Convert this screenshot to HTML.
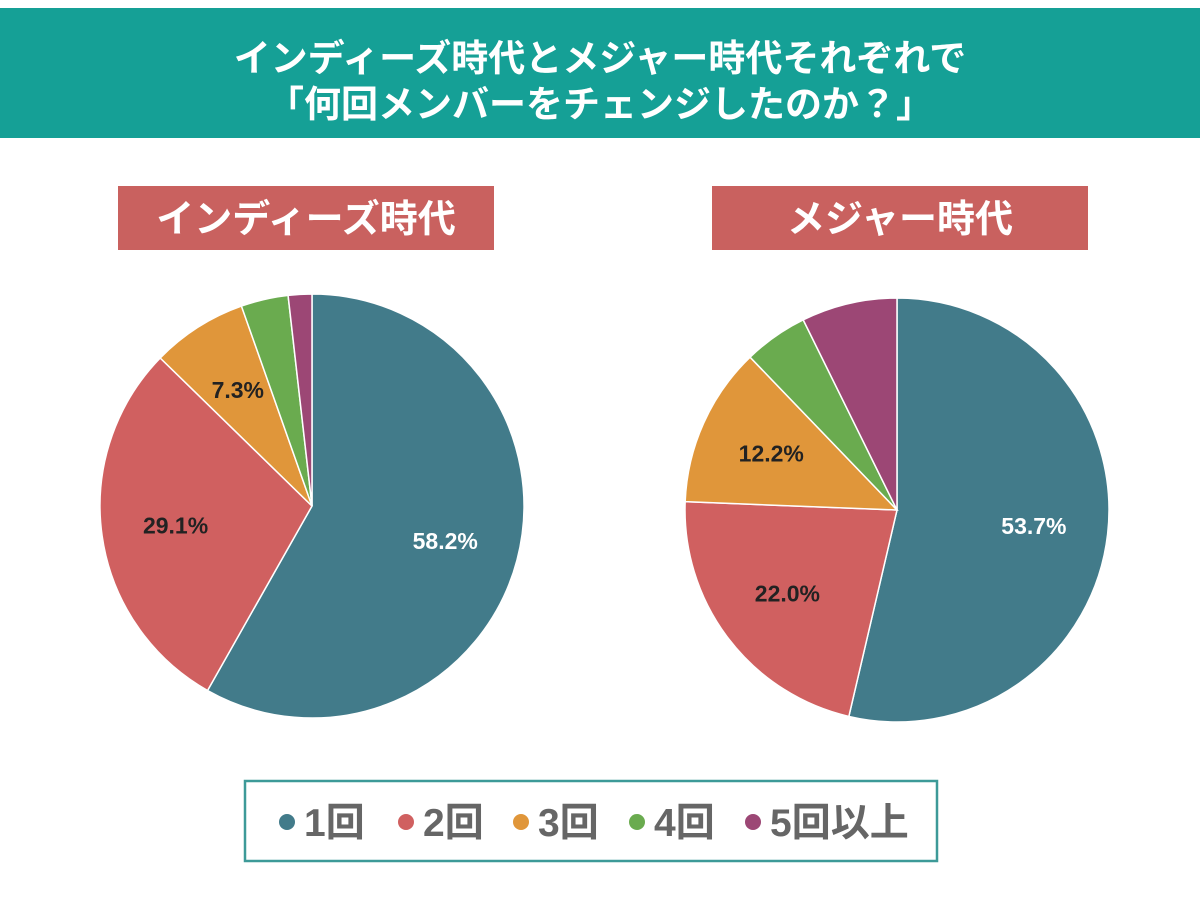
<!DOCTYPE html>
<html><head><meta charset="utf-8"><style>
html,body{margin:0;padding:0;background:#fff;}
body{width:1200px;height:907px;overflow:hidden;font-family:"Liberation Sans","Noto Sans CJK JP",sans-serif;}
</style></head><body>
<svg id="chart" width="1200" height="907" xmlns="http://www.w3.org/2000/svg">
<rect x="0" y="8" width="1200" height="130" fill="#15a096"/>
<text x="600" y="71" text-anchor="middle" font-size="37" font-weight="bold" fill="#fff" font-family="Liberation Sans, Noto Sans CJK JP, sans-serif">インディーズ時代とメジャー時代それぞれで</text>
<text x="600" y="117" text-anchor="middle" font-size="37" font-weight="bold" fill="#fff" font-family="Liberation Sans, Noto Sans CJK JP, sans-serif">「何回メンバーをチェンジしたのか？」</text>
<rect x="118" y="186" width="376" height="64" fill="#c9615f"/>
<text x="306" y="232" text-anchor="middle" font-size="38" font-weight="bold" fill="#fff" font-family="Liberation Sans, Noto Sans CJK JP, sans-serif">インディーズ時代</text>
<rect x="712" y="186" width="376" height="64" fill="#c9615f"/>
<text x="900" y="232" text-anchor="middle" font-size="38" font-weight="bold" fill="#fff" font-family="Liberation Sans, Noto Sans CJK JP, sans-serif">メジャー時代</text>
<g id="pies"></g>
<rect x="245" y="781" width="692" height="80" fill="#fff" stroke="#3d9a98" stroke-width="2.5"/>
<g id="legend"></g>
</svg>
<script>
const categories = ["1回","2回","3回","4回","5回以上"];
const indiesValues = [58.2, 29.1, 7.3, 3.6, 1.8];
const majorValues = [53.7, 22.0, 12.2, 4.9, 7.3];
const colors = ["#427b8a","#d06060","#e0963a","#6aab4f","#9c4775"];
const NS = "http://www.w3.org/2000/svg";
const pies = document.getElementById("pies");
function drawPie(vals, cx, cy, r, name){
  const total = vals.reduce((a,b)=>a+b,0);
  let acc = 0;
  vals.forEach((v,i)=>{
    const a0 = acc/total*2*Math.PI; acc += v; const a1 = acc/total*2*Math.PI;
    const x0 = cx + r*Math.sin(a0), y0 = cy - r*Math.cos(a0);
    const x1 = cx + r*Math.sin(a1), y1 = cy - r*Math.cos(a1);
    const large = (a1-a0) > Math.PI ? 1 : 0;
    const p = document.createElementNS(NS,"path");
    p.setAttribute("d",`M${cx},${cy}L${x0},${y0}A${r},${r} 0 ${large} 1 ${x1},${y1}Z`);
    p.setAttribute("fill",colors[i]);
    p.setAttribute("stroke","#fff"); p.setAttribute("stroke-width","1.5");
    
    
    pies.appendChild(p);
    if (i < 3) {
      const am = (a0+a1)/2, lr = r*0.65;
      const t = document.createElementNS(NS,"text");
      t.setAttribute("x", cx + lr*Math.sin(am));
      t.setAttribute("y", cy - lr*Math.cos(am) + 8);
      t.setAttribute("text-anchor","middle");
      t.setAttribute("font-size","23"); t.setAttribute("font-weight","bold");
      t.setAttribute("fill", i===0 ? "#fff" : "#222");
      t.textContent = v.toFixed(1) + "%";
      
      
      pies.appendChild(t);
    }
  });
}
drawPie(indiesValues, 312, 506, 212, "indies");
drawPie(majorValues, 897, 510, 212, "major");
const legend = document.getElementById("legend");
const lx = [287, 406, 521, 637, 753];
categories.forEach((c,i)=>{
  const d = document.createElementNS(NS,"circle");
  d.setAttribute("cx", lx[i]); d.setAttribute("cy", 822); d.setAttribute("r", 8);
  d.setAttribute("fill", colors[i]);
  
  
  legend.appendChild(d);
  const t = document.createElementNS(NS,"text");
  t.setAttribute("x", lx[i]+17); t.setAttribute("y", 836);
  t.setAttribute("font-size","39"); t.setAttribute("font-weight","bold"); t.setAttribute("fill","#666");
  t.textContent = c;
  
  
  legend.appendChild(t);
});
</script>
</body></html>
